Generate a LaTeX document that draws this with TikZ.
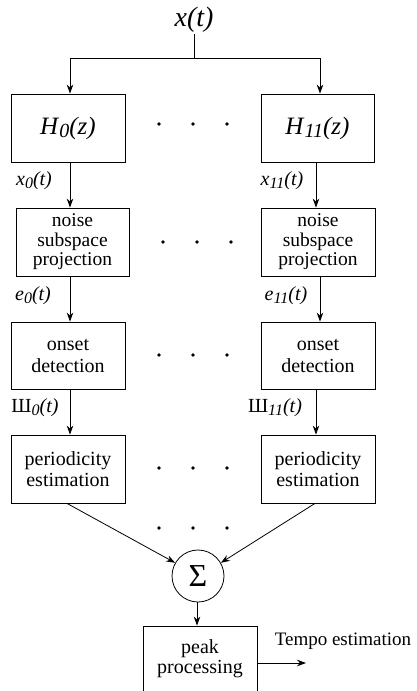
\documentclass[tikz,border=0pt]{standalone}
\usepackage{fontspec}
\setmainfont{Liberation Serif}
\usetikzlibrary{arrows.meta,calc}
\newcommand{\mysub}[1]{\raisebox{-0.3ex}{\scalebox{0.8}{\textit{#1}}}}
\begin{document}
\begin{tikzpicture}[x=1pt,y=1pt,
  line width=0.8pt,
  arr/.style={-{Stealth[length=9pt,width=6.5pt]}},
  blk/.style={draw, minimum width=114pt, minimum height=68pt, inner sep=0pt, align=center,
    font=\fontsize{19.5}{19.5}\selectfont},
  dot/.style={circle, fill, inner sep=0pt, minimum size=3.8pt},
  lbl/.style={font=\fontsize{20}{20}\selectfont, inner sep=0pt}]
\useasboundingbox (0,0) rectangle (417,-691);
% input
\node[font=\fontsize{28}{28}\selectfont, inner sep=1pt] (x) at (194,-20) {\textit{x(t)}};
\coordinate (split) at (194,-58);
\coordinate (aL) at (70,0);
\coordinate (aR) at (320,0);
\coordinate (bR) at (316,0);
% boxes
\node[blk, font=\fontsize{25}{25}\selectfont] (H0) at (68,-128) {\textit{H}\mysub{0}\textit{(z)}};
\node[blk, font=\fontsize{25}{25}\selectfont, minimum width=113pt] (H11) at (317.5,-128) {\textit{H}\mysub{11}\textit{(z)}};
\node[blk, minimum width=113pt] (N0) at (72.5,-242) {noise\\subspace\\projection};
\node[blk] (N11) at (318,-242) {noise\\subspace\\projection};
\node[blk, minimum height=67pt, font=\fontsize{20}{22}\selectfont] (O0) at (68,-355.5) {onset\\detection};
\node[blk, minimum height=67pt, font=\fontsize{20}{22}\selectfont] (O11) at (318,-355.5) {onset\\detection};
\node[blk, font=\fontsize{20}{21}\selectfont] (P0) at (68,-469) {periodicity\\estimation};
\node[blk, font=\fontsize{20}{21}\selectfont] (P11) at (318,-469) {periodicity\\estimation};
\node[draw, circle, minimum size=52pt, inner sep=0pt, font=\fontsize{32}{32}\selectfont] (S) at (198,-576) {Σ};
\node[blk, minimum height=65pt, font=\fontsize{20}{20.5}\selectfont] (K) at (200,-658.5) {peak\\processing};
\coordinate (out) at (306,-663);
\node[font=\fontsize{19}{19}\selectfont, inner sep=0pt] (T) at (343,-641) {Tempo estimation};
% dots
\foreach \yy/\xs in {124/0, 242/4, 355/0, 468/0, 528/0} {
  \node[dot] (d1-\yy) at (159+\xs,-\yy) {};
  \node[dot] (d2-\yy) at (193+\xs,-\yy) {};
  \node[dot] (d3-\yy) at (227+\xs,-\yy) {};
}
% connectors
\draw (x.south) -- (split);
\draw[arr] (split) -| (H0.north -| aL);
\draw[arr] (split) -| (H11.north -| aR);
\draw[arr] (H0.south -| aL) -- (N0.north -| aL);
\draw[arr] (H11.south -| bR) -- (N11.north -| bR);
\draw[arr] (N0.south -| aL) -- (O0.north -| aL);
\draw[arr] (N11.south -| aR) -- (O11.north -| aR);
\draw[arr] (O0.south -| aL) -- (P0.north -| aL);
\draw[arr] (O11.south -| bR) -- (P11.north -| bR);
\draw[arr] ($(P0.south)+(-1,0)$) -- (S.150);
\draw[arr] ($(P11.south)+(-3,0)$) -- (S.30);
\draw[arr] (S.south -| K.north) ++(-3,0) coordinate (sb) -- (sb |- K.north);
\draw[arr] (K.east |- out) -- (out);
% labels
\node[lbl] (lx0) at (34,-181) {\textit{x}\mysub{0}\textit{(t)}};
\node[lbl] (lx11) at (282,-181) {\textit{x}\mysub{11}\textit{(t)}};
\node[lbl] (le0) at (33,-296) {\textit{e}\mysub{0}\textit{(t)}};
\node[lbl] (le11) at (286,-296) {\textit{e}\mysub{11}\textit{(t)}};
\node[lbl] (ls0) at (35,-408) {Ш\mysub{0}\textit{(t)}};
\node[lbl] (ls11) at (275,-408) {Ш\mysub{11}\textit{(t)}};
\end{tikzpicture}
\end{document}
